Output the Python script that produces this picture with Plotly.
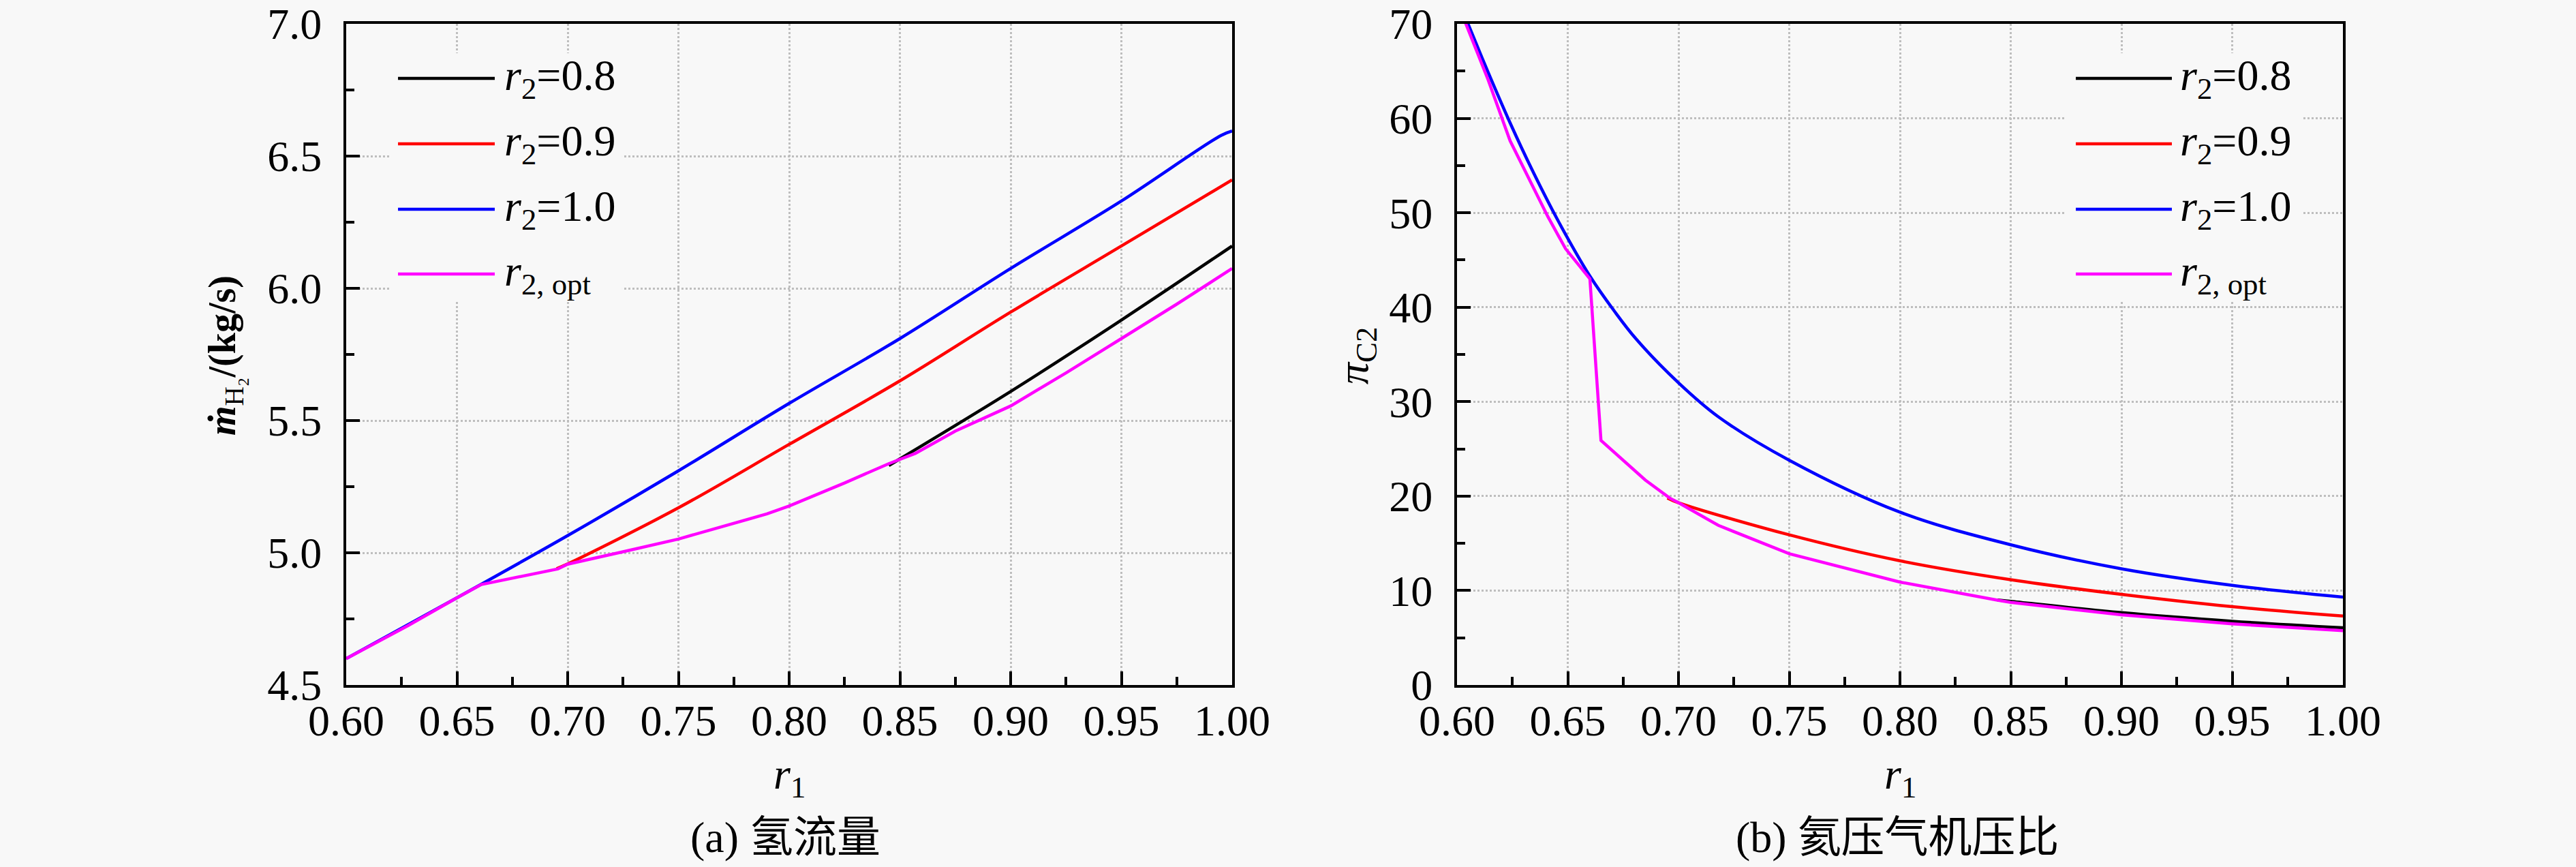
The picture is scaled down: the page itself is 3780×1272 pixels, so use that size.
import plotly.graph_objects as go

# (a) hydrogen mass flow vs r1
r1_a_08 = [0.845, 0.85, 0.90, 0.95, 1.00]
m_08 = [5.33, 5.355, 5.61, 5.88, 6.16]
r1_a_09 = [0.695, 0.70, 0.75, 0.80, 0.85, 0.90, 0.95, 1.00]
m_09 = [4.94, 4.958, 5.17, 5.41, 5.65, 5.91, 6.16, 6.41]
r1_a_10 = [0.60, 0.65, 0.70, 0.75, 0.80, 0.85, 0.90, 0.95, 0.995, 1.00]
m_10 = [4.60, 4.83, 5.065, 5.31, 5.565, 5.81, 6.075, 6.33, 6.578, 6.595]
r1_a_opt = [0.60, 0.628, 0.65, 0.661, 0.6956, 0.70, 0.725, 0.75, 0.79, 0.80, 0.825,
            0.845, 0.857, 0.875, 0.90, 0.925, 0.95, 0.975, 1.00]
m_opt = [4.60, 4.725, 4.83, 4.88, 4.939, 4.957, 5.004, 5.052, 5.147, 5.177, 5.264,
         5.337, 5.376, 5.46, 5.555, 5.68, 5.81, 5.94, 6.075]

# (b) helium compressor pressure ratio vs r1
r1_b_08 = [0.844, 0.85, 0.90, 0.95, 1.00]
pi_08 = [9.0, 8.86, 7.66, 6.75, 6.06]
r1_b_09 = [0.695, 0.70, 0.75, 0.80, 0.85, 0.90, 0.95, 1.00]
pi_09 = [19.8, 19.3, 15.9, 13.15, 11.15, 9.6, 8.3, 7.3]
r1_b_10 = [0.60, 0.605, 0.614, 0.624, 0.634, 0.646, 0.66, 0.671, 0.681, 0.70, 0.718,
           0.75, 0.80, 0.85, 0.90, 0.95, 1.00]
pi_10 = [73.0, 70.0, 64.9, 59.5, 54.5, 49.0, 43.3, 39.6, 36.6, 32.0, 28.4,
         23.8, 18.3, 14.85, 12.3, 10.55, 9.3]
r1_b_opt = [0.60, 0.604, 0.614, 0.624, 0.641, 0.649, 0.660, 0.665, 0.685, 0.696, 0.70,
            0.718, 0.75, 0.80, 0.844, 0.85, 0.90, 0.95, 1.00]
pi_opt = [72.5, 70.0, 64.1, 57.6, 49.6, 46.2, 43.0, 25.9, 21.7, 19.8, 19.3,
          16.9, 13.9, 10.9, 8.98, 8.75, 7.43, 6.47, 5.75]

names = ["<i>r</i><sub>2</sub>=0.8", "<i>r</i><sub>2</sub>=0.9",
         "<i>r</i><sub>2</sub>=1.0", "<i>r</i><sub>2, opt</sub>"]
colors = ["#000000", "#ff0000", "#0000ff", "#ff00ff"]

BG = "#f8f8f8"
FONT = "Liberation Serif, Times New Roman, Noto Sans CJK SC, serif"
LW = 4.5

fig = go.Figure()

series_a = [(r1_a_08, m_08), (r1_a_09, m_09), (r1_a_10, m_10), (r1_a_opt, m_opt)]
series_b = [(r1_b_08, pi_08), (r1_b_09, pi_09), (r1_b_10, pi_10), (r1_b_opt, pi_opt)]

for i, (x, y) in enumerate(series_a):
    fig.add_trace(go.Scatter(x=x, y=y, mode="lines", name=names[i], showlegend=False,
                             line=dict(color=colors[i], width=LW,
                                       shape="linear" if i == 3 else "spline"),
                             xaxis="x", yaxis="y"))
for i, (x, y) in enumerate(series_b):
    fig.add_trace(go.Scatter(x=x, y=y, mode="lines", name=names[i], showlegend=False,
                             line=dict(color=colors[i], width=LW,
                                       shape="linear" if i == 3 else "spline"),
                             xaxis="x2", yaxis="y2"))

axis_common = dict(
    showline=True, linecolor="black", linewidth=4, mirror=True, automargin=False,
    ticks="inside", ticklen=20, tickwidth=4, tickcolor="black",
    showgrid=True, gridcolor="#bebebe", gridwidth=3, griddash="dot",
    zeroline=False, tickfont=dict(family=FONT, size=64, color="black"),
)
xax = dict(axis_common, range=[0.6, 1.0], dtick=0.05, tick0=0.6, tickformat=".2f",
           ticklabelstandoff=-7,
           minor=dict(dtick=0.025, ticks="inside", ticklen=12, tickwidth=4,
                      tickcolor="black", showgrid=False))

fig.update_layout(
    width=3780, height=1272,
    paper_bgcolor=BG, plot_bgcolor=BG,
    margin=dict(l=0, r=0, t=0, b=0),
    font=dict(family=FONT, size=64, color="black"),
    xaxis=dict(xax, domain=[508 / 3780, 1808 / 3780], anchor="y"),
    yaxis=dict(axis_common, domain=[1 - 1005 / 1272, 1 - 35 / 1272], anchor="x",
               range=[4.5, 7.0], dtick=0.5, tickformat=".1f", ticklabelstandoff=19,
               minor=dict(dtick=0.25, ticks="inside", ticklen=12, tickwidth=4,
                          tickcolor="black", showgrid=False)),
    xaxis2=dict(xax, domain=[2138 / 3780, 3438 / 3780], anchor="y2"),
    yaxis2=dict(axis_common, domain=[1 - 1005 / 1272, 1 - 35 / 1272], anchor="x2",
                range=[0, 70], dtick=10, ticklabelstandoff=19,
                minor=dict(dtick=5, ticks="inside", ticklen=12, tickwidth=4,
                           tickcolor="black", showgrid=False)),
)

# legend boxes (hide grid behind) with line samples and labels
row_y = [0.9175, 0.8186, 0.7196, 0.6216]
legends = [("x domain", "y domain", 0.0492, 0.3115, 0.0585, 0.1677, 0.1769),
           ("x2 domain", "y2 domain", 0.6877, 0.9531, 0.6985, 0.8069, 0.8146)]
for xr, yr, bx0, bx1, sx0, sx1, tx in legends:
    fig.add_shape(type="rect", xref=xr, yref=yr, x0=bx0, x1=bx1, y0=0.5794, y1=0.9557,
                  fillcolor=BG, line=dict(width=0), layer="above")
    for i in range(4):
        fig.add_shape(type="line", xref=xr, yref=yr, x0=sx0, x1=sx1, y0=row_y[i], y1=row_y[i],
                      line=dict(color=colors[i], width=LW), layer="above")
        fig.add_annotation(xref=xr, yref=yr, x=tx, y=row_y[i], text=names[i],
                           showarrow=False, xanchor="left", yanchor="middle",
                           font=dict(family=FONT, size=64, color="black"))

# axis titles and captions
texts = [
    (1158 / 3780, 1 - 1140 / 1272, "<i>r</i><sub>1</sub>", 0, 64),
    (2788 / 3780, 1 - 1140 / 1272, "<i>r</i><sub>1</sub>", 0, 64),
    (330 / 3780, 1 - 522 / 1272, "<b><i>ṁ</i></b><sub>H₂</sub><b>/(kg/s)</b>", -90, 56),
    (1990 / 3780, 1 - 522 / 1272, "<i>π</i><sub>C2</sub>", -90, 64),
    (1152 / 3780, 1 - 1228 / 1272, "(a) 氢流量", 0, 64),
    (2784 / 3780, 1 - 1228 / 1272, "(b) 氦压气机压比", 0, 64),
]
for x, y, t, ang, sz in texts:
    fig.add_annotation(xref="paper", yref="paper", x=x, y=y, text=t, showarrow=False,
                       textangle=ang, xanchor="center", yanchor="middle",
                       font=dict(family=FONT, size=sz, color="black"))

fig.write_html("out.html", config={"displayModeBar": False},
               post_script="document.body.style.margin='0';")
